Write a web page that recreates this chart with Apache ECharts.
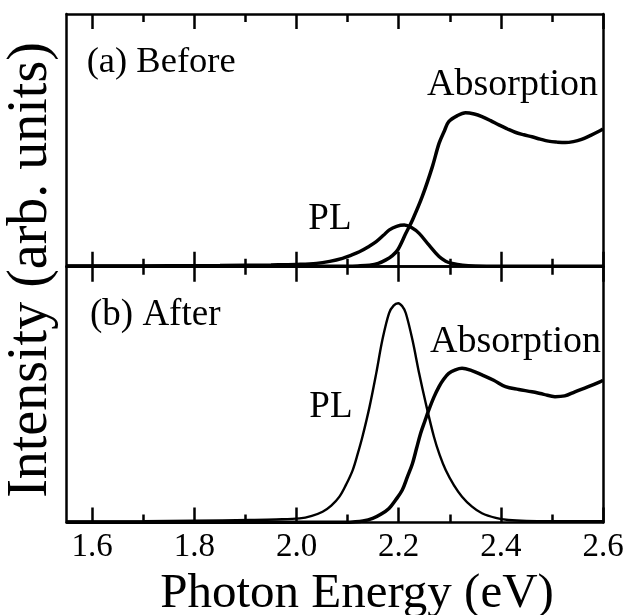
<!DOCTYPE html>
<html>
<head>
<meta charset="utf-8">
<script src="https://cdn.jsdelivr.net/npm/echarts@6/dist/echarts.min.js"></script>
<style>
html,body{margin:0;padding:0;background:#fff;}
#chart{width:629px;height:615px;}
</style>
</head>
<body>
<div id="chart"></div>
<script>
// ---- Data ----
const majorTicks = [1.6, 1.8, 2.0, 2.2, 2.4, 2.6];
const minorTicks = [1.7, 1.9, 2.1, 2.3, 2.5];

// (a) Before : absorption
const absA_E = [1.55, 1.70, 1.85, 2.00, 2.10, 2.12, 2.143, 2.16, 2.175, 2.187, 2.198, 2.214, 2.227, 2.246, 2.266, 2.279, 2.29, 2.298, 2.315, 2.331, 2.348, 2.363, 2.38, 2.396, 2.412, 2.428, 2.445, 2.461, 2.477, 2.493, 2.51, 2.526, 2.542, 2.558, 2.576, 2.594, 2.60];
const absA_I = [0.002, 0.002, 0.002, 0.002, 0.002, 0.003, 0.006, 0.013, 0.027, 0.043, 0.066, 0.132, 0.185, 0.277, 0.396, 0.488, 0.54, 0.574, 0.598, 0.609, 0.604, 0.594, 0.578, 0.561, 0.546, 0.532, 0.522, 0.514, 0.505, 0.497, 0.493, 0.491, 0.495, 0.504, 0.52, 0.538, 0.545];

// (a) Before : PL
const plA_E = [1.55, 1.65, 1.75, 1.85, 1.95, 1.973, 2.0, 2.039, 2.065, 2.09, 2.105, 2.123, 2.14, 2.156, 2.17, 2.181, 2.196, 2.211, 2.225, 2.24, 2.259, 2.279, 2.292, 2.305, 2.325, 2.35, 2.4, 2.5, 2.6];
const plA_I = [0.003, 0.003, 0.004, 0.005, 0.007, 0.008, 0.009, 0.013, 0.021, 0.033, 0.044, 0.059, 0.078, 0.099, 0.124, 0.145, 0.16, 0.165, 0.155, 0.132, 0.086, 0.04, 0.022, 0.013, 0.006, 0.003, 0.002, 0.002, 0.002];

// (b) After : PL
const plB_E = [1.55, 1.7, 1.8, 1.909, 1.96, 2.006, 2.03, 2.051, 2.068, 2.084, 2.097, 2.11, 2.12, 2.129, 2.143, 2.156, 2.168, 2.181, 2.19, 2.199, 2.207, 2.214, 2.227, 2.24, 2.253, 2.269, 2.28, 2.292, 2.308, 2.324, 2.343, 2.363, 2.39, 2.415, 2.45, 2.5, 2.6];
const plB_I = [0.004, 0.005, 0.007, 0.01, 0.012, 0.016, 0.026, 0.042, 0.066, 0.101, 0.148, 0.205, 0.27, 0.335, 0.453, 0.583, 0.713, 0.818, 0.848, 0.857, 0.845, 0.818, 0.713, 0.583, 0.466, 0.335, 0.265, 0.205, 0.146, 0.101, 0.063, 0.036, 0.018, 0.01, 0.006, 0.005, 0.005];

// (b) After : absorption
const absB_E = [1.55, 1.8, 2.0, 2.1, 2.11, 2.13, 2.149, 2.165, 2.181, 2.194, 2.207, 2.217, 2.227, 2.235, 2.243, 2.251, 2.259, 2.269, 2.279, 2.288, 2.298, 2.311, 2.324, 2.343, 2.363, 2.386, 2.409, 2.435, 2.461, 2.484, 2.506, 2.525, 2.545, 2.57, 2.594, 2.6];
const absB_I = [0.001, 0.001, 0.001, 0.001, 0.002, 0.006, 0.016, 0.032, 0.055, 0.088, 0.127, 0.178, 0.231, 0.29, 0.349, 0.395, 0.44, 0.49, 0.531, 0.56, 0.583, 0.597, 0.603, 0.594, 0.577, 0.556, 0.531, 0.52, 0.511, 0.501, 0.492, 0.495, 0.511, 0.53, 0.55, 0.556];

// ---- Chart ----
const FONT = '"Liberation Serif", "Times New Roman", serif';
const xMin = 1.55, xMax = 2.6;
const lineW = 2.5;

function xAx(grid, pos, kind, showLabel) {
  const isMajor = kind === 'major';
  return {
    type: 'value', gridIndex: grid, position: pos, min: xMin, max: xMax,
    axisLine: { show: isMajor, onZero: false, lineStyle: { color: '#000', width: lineW } },
    axisTick: { show: true, inside: true, length: isMajor ? 15 : 8,
      customValues: isMajor ? majorTicks : minorTicks,
      lineStyle: { color: '#000', width: 2.5 } },
    axisLabel: { show: !!showLabel, customValues: majorTicks, margin: 8,
      formatter: v => v.toFixed(1),
      fontFamily: FONT, fontSize: 33, color: '#000' },
    splitLine: { show: false }
  };
}
function yAx(grid, pos) {
  return {
    type: 'value', gridIndex: grid, position: pos, min: 0, max: 1,
    axisLine: { show: true, onZero: false, lineStyle: { color: '#000', width: lineW } },
    axisTick: { show: false }, axisLabel: { show: false }, splitLine: { show: false }
  };
}
function pairs(E, I) { return E.map((e, i) => [e, I[i]]); }
function txt(s, x, baseline, fs, align) {
  return { type: 'text', x: x, y: baseline - 0.35 * fs, silent: true,
    style: { text: s, font: fs + 'px ' + FONT, fill: '#000', align: align || 'left', verticalAlign: 'middle' } };
}

const chart = echarts.init(document.getElementById('chart'), null, { renderer: 'canvas' });
chart.setOption({
  animation: false,
  backgroundColor: '#fff',
  grid: [
    { left: 66.7, top: 14, width: 536.3, height: 252.7 },
    { left: 66.7, top: 266.7, width: 536.3, height: 255.8 }
  ],
  xAxis: [
    xAx(0, 'bottom', 'major', false), // 0
    xAx(0, 'bottom', 'minor', false), // 1
    xAx(0, 'top', 'major', false),    // 2
    xAx(0, 'top', 'minor', false),    // 3
    xAx(1, 'bottom', 'major', true),  // 4
    xAx(1, 'bottom', 'minor', false), // 5
    xAx(1, 'top', 'major', false),    // 6
    xAx(1, 'top', 'minor', false)     // 7
  ],
  yAxis: [yAx(0, 'left'), yAx(0, 'right'), yAx(1, 'left'), yAx(1, 'right')],
  series: [
    { name: 'Absorption (a)', type: 'line', xAxisIndex: 0, yAxisIndex: 0, data: pairs(absA_E, absA_I),
      showSymbol: false, smooth: 0.35, lineStyle: { color: '#000', width: 3.5 } },
    { name: 'PL (a)', type: 'line', xAxisIndex: 0, yAxisIndex: 0, data: pairs(plA_E, plA_I),
      showSymbol: false, smooth: 0.35, lineStyle: { color: '#000', width: 3.4 } },
    { name: 'PL (b)', type: 'line', xAxisIndex: 4, yAxisIndex: 2, data: pairs(plB_E, plB_I),
      showSymbol: false, smooth: 0.35, lineStyle: { color: '#000', width: 2.4 } },
    { name: 'Absorption (b)', type: 'line', xAxisIndex: 4, yAxisIndex: 2, data: pairs(absB_E, absB_I),
      showSymbol: false, smooth: 0.35, lineStyle: { color: '#000', width: 3.5 } }
  ],
  graphic: [
    txt('(a) Before', 86.7, 75, 36.5),
    txt('Absorption', 427, 98.3, 38),
    txt('PL', 308.3, 232.7, 37),
    txt('(b) After', 90, 328.3, 37),
    txt('Absorption', 430, 355, 38),
    txt('PL', 309.3, 420, 37),
    txt('Photon Energy (eV)', 357, 611, 49, 'center'),
    { type: 'text', x: 31, y: 270, rotation: Math.PI / 2, silent: true,
      style: { text: 'Intensity (arb. units)', font: '56px ' + FONT, fill: '#000', align: 'center', verticalAlign: 'middle' } }
  ]
});
</script>
</body>
</html>
